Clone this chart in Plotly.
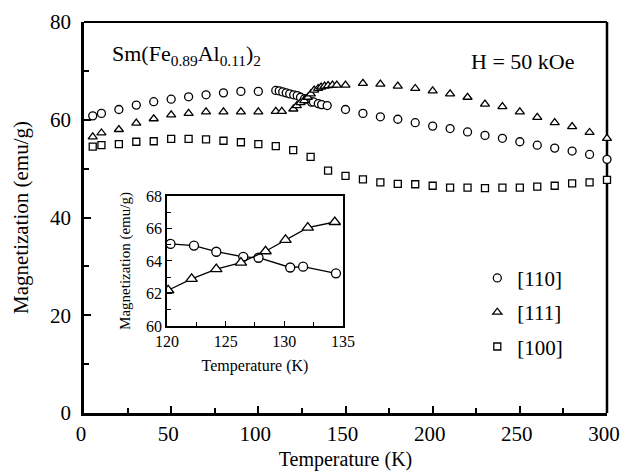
import plotly.graph_objects as go

# ---- main panel: magnetization vs temperature at H = 50 kOe ----
T_110 = [5, 10, 20, 30, 40, 50, 60, 70, 80, 90, 100,
         110, 112, 114, 116, 118, 120.3, 122.3, 124.2, 126.5, 127.8, 130.5, 131.6, 134.4, 136.3, 139.5,
         150, 160, 170, 180, 190, 200, 210, 220, 230, 240, 250, 260, 270, 280, 290, 300]
M_110 = [60.8, 61.3, 62.1, 63.0, 63.7, 64.2, 64.7, 65.1, 65.5, 65.8, 65.8,
         66.0, 65.9, 65.7, 65.5, 65.3, 65.1, 64.95, 64.6, 64.3, 64.2, 63.6, 63.65, 63.3, 63.1, 62.9,
         62.1, 61.3, 60.6, 60.1, 59.4, 58.7, 58.2, 57.5, 56.8, 56.2, 55.5, 54.8, 54.2, 53.6, 52.9, 51.9]

T_111 = [5, 10, 20, 30, 40, 50, 60, 70, 80, 90, 100,
         110, 113.5, 120.1, 122.1, 124.2, 126.3, 128.4, 130.1, 132.0, 134.3, 136, 138, 140, 142.5, 145, 150,
         160, 170, 180, 190, 200, 210, 220, 230, 240, 250, 260, 270, 280, 290, 300]
M_111 = [56.5, 57.3, 58.0, 59.3, 60.2, 61.0, 61.3, 61.6, 61.6, 61.6, 61.6,
         61.7, 61.7, 62.2, 62.9, 63.5, 63.9, 64.6, 65.3, 66.05, 66.4, 66.7, 66.9, 67.0, 67.1, 67.1, 67.1,
         67.45, 67.3, 66.9, 66.4, 65.9, 65.3, 64.6, 63.2, 62.7, 61.6, 60.5, 59.4, 58.6, 57.4, 56.2]

T_100 = [5, 10, 20, 30, 40, 50, 60, 70, 80, 90, 100, 110, 120, 130, 140, 150,
         160, 170, 180, 190, 200, 210, 220, 230, 240, 250, 260, 270, 280, 290, 300]
M_100 = [54.5, 54.8, 55.0, 55.5, 55.6, 56.1, 56.1, 56.0, 55.7, 55.4, 55.0, 54.6, 53.8, 52.4, 49.6, 48.5,
         47.8, 47.2, 46.9, 46.8, 46.5, 46.1, 46.1, 46.0, 46.1, 46.1, 46.3, 46.5, 47.0, 47.2, 47.7]

# ---- inset: crossing region 120-135 K ----
Ti_110 = [120.3, 122.3, 124.2, 126.5, 127.8, 130.5, 131.6, 134.4]
Mi_110 = [65.05, 64.95, 64.57, 64.26, 64.2, 63.6, 63.65, 63.24]
Ti_111 = [120.1, 122.1, 124.2, 126.3, 128.4, 130.1, 132.0, 134.3]
Mi_111 = [62.2, 62.9, 63.5, 63.9, 64.6, 65.3, 66.05, 66.4]

FONT = "Liberation Serif, Times New Roman, serif"
INK = "black"


def serif(size):
    return dict(family=FONT, size=size, color=INK)


def open_marker(symbol, size):
    return dict(symbol=symbol, size=size, color="white", line=dict(color=INK, width=1.3))


fig = go.Figure()

for x, y, sym, size, name in [
    (T_110, M_110, "circle", 8, "[110]"),
    (T_111, M_111, "triangle-up", 8, "[111]"),
    (T_100, M_100, "square", 7, "[100]"),
]:
    fig.add_trace(go.Scatter(x=x, y=y, mode="markers", name=name, legendgroup=name,
                             marker=open_marker(sym, size), cliponaxis=False,
                             xaxis="x", yaxis="y"))

for x, y, sym, size in [
    (Ti_110, Mi_110, "circle", 9),
    (Ti_111, Mi_111, "triangle-up", 10),
]:
    fig.add_trace(go.Scatter(x=x, y=y, mode="lines+markers", showlegend=False,
                             line=dict(color=INK, width=1.3),
                             marker=open_marker(sym, size),
                             xaxis="x2", yaxis="y2"))

main_axis = dict(showline=True, linecolor=INK, linewidth=2.5, showgrid=False, zeroline=False,
                 ticks="inside", ticklen=7, tickwidth=1.5, tickcolor=INK,
                 tickfont=serif(21), automargin=False, ticklabeloverflow="allow")
inset_axis = dict(showline=True, linecolor=INK, linewidth=1.5, mirror=True, showgrid=False,
                  zeroline=False, ticks="inside", ticklen=5, tickwidth=1.2, tickcolor=INK,
                  tickfont=serif(16), automargin=False)

fig.update_layout(
    width=621, height=474,
    margin=dict(l=84, r=14, t=22, b=61),
    paper_bgcolor="white", plot_bgcolor="white",
    font=serif(21),
    xaxis=dict(main_axis, range=[0, 300], dtick=50, ticklabelshift=-3,
               minor=dict(dtick=25, ticks="inside", ticklen=5, tickwidth=1.5, tickcolor=INK),
               title=dict(text="Temperature (K)", font=serif(20), standoff=8)),
    yaxis=dict(main_axis, range=[0, 80], dtick=20, ticklabelstandoff=6,
               minor=dict(dtick=10, ticks="inside", ticklen=5, tickwidth=1.5, tickcolor=INK),
               title=dict(text="Magnetization (emu/g)", font=serif(21), standoff=16)),
    xaxis2=dict(inset_axis, domain=[0.1587, 0.4952], anchor="y2", range=[120, 135], dtick=5,
                minor=dict(dtick=2.5, ticks="inside", ticklen=4, tickwidth=1.2, tickcolor=INK),
                title=dict(text="Temperature (K)", font=serif(16), standoff=11)),
    yaxis2=dict(inset_axis, domain=[0.2225, 0.555], anchor="x2", range=[60, 68], dtick=2,
                minor=dict(dtick=1, ticks="inside", ticklen=4, tickwidth=1.2, tickcolor=INK),
                title=dict(text="Magnetization (emu/g)", font=serif(15), standoff=12)),
    legend=dict(x=0.752, y=0.397, xanchor="left", yanchor="top", bgcolor="rgba(0,0,0,0)",
                font=serif(21), traceorder="grouped", tracegroupgap=4),
    annotations=[
        dict(text="Sm(Fe<sub>0.89</sub>Al<sub>0.11</sub>)<sub>2</sub>", xref="paper", yref="paper",
             x=0.0497, y=0.9156, xanchor="left", yanchor="middle", showarrow=False,
             font=serif(22)),
        dict(text="H = 50 kOe", xref="paper", yref="paper", x=0.9407, y=0.900,
             xanchor="right", yanchor="middle", showarrow=False, font=serif(22)),
    ],
    shapes=[
        dict(type="line", xref="paper", yref="paper", x0=0, x1=1, y0=1, y1=1,
             line=dict(color=INK, width=2), layer="below"),
        dict(type="line", xref="paper", yref="paper", x0=1, x1=1, y0=0, y1=1,
             line=dict(color=INK, width=2.5), layer="below"),
    ],
)

fig.write_html("out.html")
